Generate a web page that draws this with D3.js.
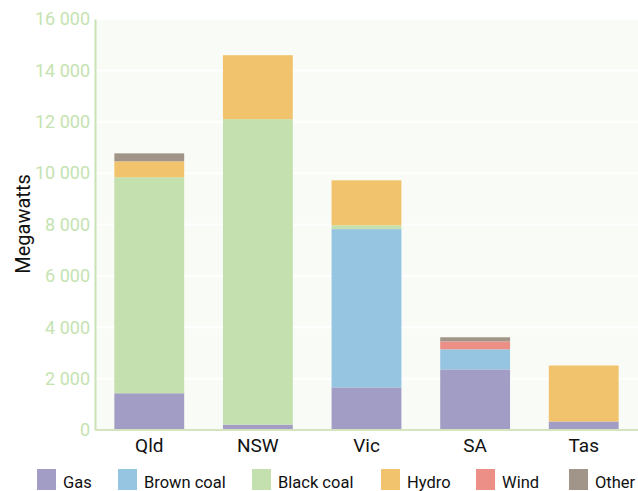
<!DOCTYPE html>
<html>
<head>
<meta charset="utf-8">
<script src="https://cdn.jsdelivr.net/npm/d3@7"></script>
<style>
  body { margin: 0; background: #fff; }
  text { font-family: "Roboto", "DejaVu Sans", sans-serif; }
</style>
</head>
<body>
<svg id="chart" width="638" height="491"></svg>
<script>
// data (megawatts)
var states = ["Qld", "NSW", "Vic", "SA", "Tas"];
var fuels = ["Gas", "Brown coal", "Black coal", "Hydro", "Wind", "Other"];
var gas       = [1430, 210, 1660, 2360, 330];
var brownCoal = [0, 0, 6160, 780, 0];
var blackCoal = [8410, 11890, 150, 0, 0];
var hydro     = [620, 2490, 1750, 0, 2180];
var wind      = [0, 0, 0, 310, 0];
var other     = [310, 0, 0, 160, 0];
var yTicks = [0, 2000, 4000, 6000, 8000, 10000, 12000, 14000, 16000];

var fuelColors = ["#a29dc4", "#96c5e2", "#c3e0ae", "#f1c36d", "#eb8f87", "#a19589"];

var series = [gas, brownCoal, blackCoal, hydro, wind, other];
var rows = states.map(function(s, i){
    var r = {state: s};
    fuels.forEach(function(f, j){ r[f] = series[j][i]; });
    return r;
});

var svg = d3.select("#chart");
var margin = {left: 95, right: 0, top: 19, bottom: 61};
var W = 638, H = 491;

var x = d3.scaleBand().domain(states)
    .range([margin.left, W - margin.right])
    .paddingInner(0.357).paddingOuter(0.178);
var y = d3.scaleLinear().domain([0, 16000]).range([H - margin.bottom, margin.top]);
var color = d3.scaleOrdinal().domain(fuels).range(fuelColors);

// plot background
svg.append("rect")
    .attr("x", margin.left).attr("y", margin.top)
    .attr("width", W - margin.left - margin.right)
    .attr("height", y(0) - margin.top)
    .attr("fill", "#f9fbf6");

// grid lines
svg.append("g").selectAll("line")
    .data(yTicks.slice(1))
    .join("line")
        .attr("x1", margin.left).attr("x2", W)
        .attr("y1", function(d){ return y(d); })
        .attr("y2", function(d){ return y(d); })
        .attr("stroke", "#ffffff")
        .attr("stroke-width", 2);

// stacked bars
var stacked = d3.stack().keys(fuels)(rows);
svg.append("g").selectAll("g")
    .data(stacked)
    .join("g")
        .attr("fill", function(d){ return color(d.key); })
    .selectAll("rect")
    .data(function(d){ return d; })
    .join("rect")
        .attr("x", function(d){ return x(d.data.state); })
        .attr("width", x.bandwidth())
        .attr("y", function(d){ return y(d[1]); })
        .attr("height", function(d){ return y(d[0]) - y(d[1]); });

// y axis
var yAxis = svg.append("g")
    .attr("transform", "translate(" + margin.left + ",0)")
    .call(d3.axisLeft(y).tickValues(yTicks).tickSize(0).tickPadding(5)
        .tickFormat(function(d){ return d3.format(",")(d).replace(/,/g, " "); }));
yAxis.select(".domain").attr("stroke", "#c9e3b5").attr("stroke-width", 2);
yAxis.selectAll("text")
    .attr("fill", "#c5e3b1")
    .style("font-size", "18px")
    .style("font-family", "Roboto, sans-serif");

// x axis
var xAxis = svg.append("g")
    .attr("transform", "translate(0," + y(0) + ")")
    .call(d3.axisBottom(x).tickSize(0).tickPadding(9));
xAxis.select(".domain").attr("stroke", "#d6e3bf").attr("stroke-width", 2)
    .attr("d", "M" + margin.left + ",0H" + W);
xAxis.selectAll("text")
    .attr("fill", "#111")
    .style("font-size", "19px")
    .style("font-family", "Roboto, sans-serif");

// y title
svg.append("text")
    .attr("transform", "translate(30,224) rotate(-90)")
    .attr("text-anchor", "middle")
    .attr("fill", "#111")
    .style("font-size", "20px")
    .text("Megawatts");

// legend
var legendX = [37, 118, 252, 381, 476, 569];
var lg = svg.append("g").selectAll("g")
    .data(fuels)
    .join("g")
        .attr("transform", function(d, i){ return "translate(" + legendX[i] + ",469)"; });
lg.append("rect")
    .attr("width", 19).attr("height", 21)
    .attr("fill", function(d){ return color(d); });
lg.append("text")
    .attr("x", 26).attr("y", 19)
    .attr("fill", "#111")
    .style("font-size", "16.5px")
    .text(function(d){ return d; });
</script>
</body>
</html>
